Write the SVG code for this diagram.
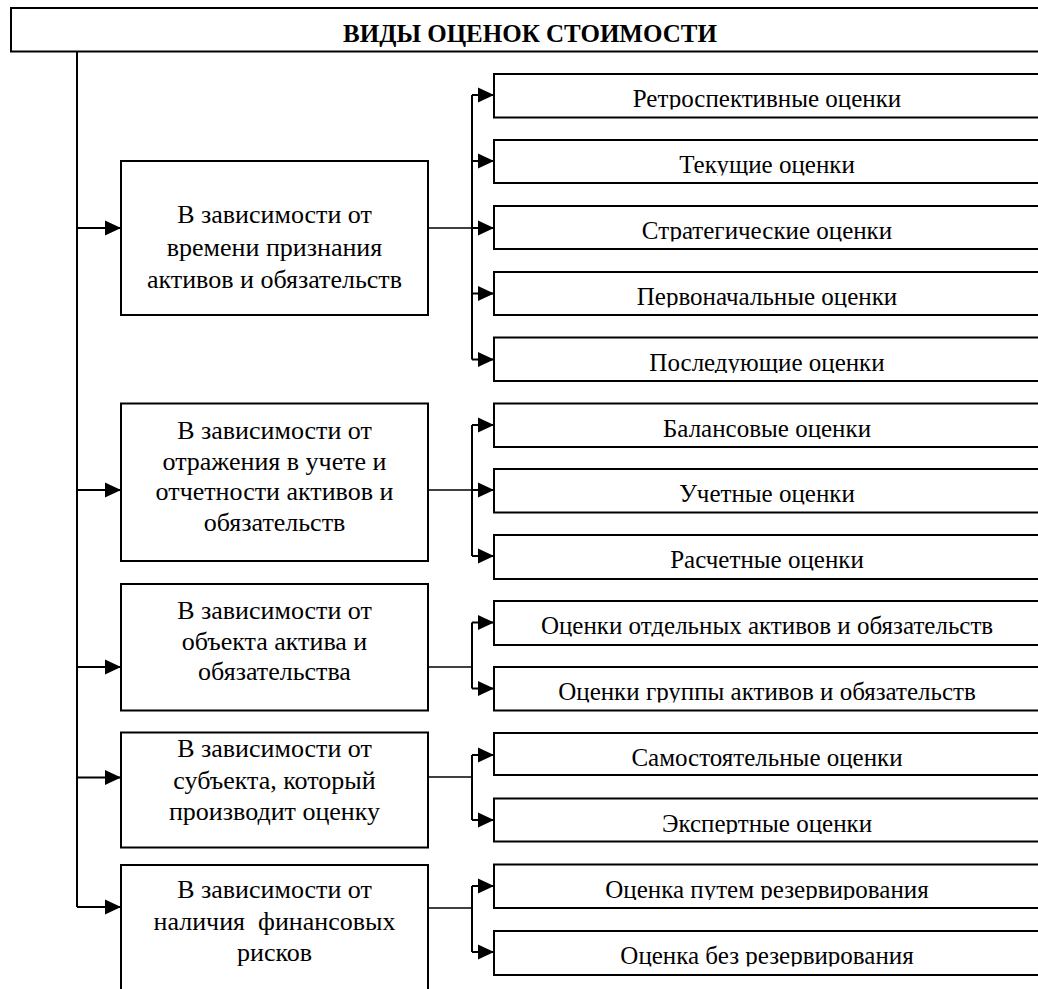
<svg xmlns="http://www.w3.org/2000/svg" width="1038" height="989" viewBox="0 0 1038 989">
<style>
.box{fill:#fff;stroke:#000;stroke-width:2}
.ln{fill:none;stroke:#000;stroke-width:2}
.cn{fill:none;stroke:#000;stroke-width:1.5}
.t{font-family:"Liberation Serif","DejaVu Serif",serif;font-size:25px;fill:#000;text-anchor:middle}
.l{font-family:"Liberation Serif","DejaVu Serif",serif;font-size:26px;fill:#000;text-anchor:middle}
.h{font-family:"Liberation Serif","DejaVu Serif",serif;font-size:25px;font-weight:bold;fill:#000;text-anchor:middle}
</style>
<defs>
<marker id="ah" markerUnits="userSpaceOnUse" markerWidth="16" markerHeight="16" viewBox="0 0 16 16" refX="16" refY="8" orient="auto">
<path d="M0,0.5 L16,8 L0,15.5 Z" fill="#000"/>
</marker>
<clipPath id="clipR"><rect x="0" y="0" width="600" height="35.5"/></clipPath>
</defs>
<rect width="1038" height="989" fill="#fff"/>

<g id="header">
<rect class="box" x="11" y="8" width="1100" height="43.5"/>
<text class="h" x="530" y="41.5">ВИДЫ ОЦЕНОК СТОИМОСТИ</text>
</g>

<g id="connectors">
<path class="ln" d="M77,51.5 V907"/>
<path class="ln" d="M77,228 H121" marker-end="url(#ah)"/>
<path class="ln" d="M77,490 H121" marker-end="url(#ah)"/>
<path class="ln" d="M77,667 H121" marker-end="url(#ah)"/>
<path class="ln" d="M77,777.5 H121" marker-end="url(#ah)"/>
<path class="ln" d="M77,907 H121" marker-end="url(#ah)"/>

<path class="cn" d="M428,228 H472"/>
<path class="ln" d="M472,95 V359.5"/>
<path class="ln" d="M472,95 H494" marker-end="url(#ah)"/>
<path class="ln" d="M472,161 H494" marker-end="url(#ah)"/>
<path class="ln" d="M472,228 H494" marker-end="url(#ah)"/>
<path class="ln" d="M472,293.5 H494" marker-end="url(#ah)"/>
<path class="ln" d="M472,359.5 H494" marker-end="url(#ah)"/>

<path class="cn" d="M428,490 H472"/>
<path class="ln" d="M472,425 V556"/>
<path class="ln" d="M472,425 H494" marker-end="url(#ah)"/>
<path class="ln" d="M472,490 H494" marker-end="url(#ah)"/>
<path class="ln" d="M472,556 H494" marker-end="url(#ah)"/>

<path class="cn" d="M428,667 H472"/>
<path class="ln" d="M472,622.5 V688.5"/>
<path class="ln" d="M472,622.5 H494" marker-end="url(#ah)"/>
<path class="ln" d="M472,688.5 H494" marker-end="url(#ah)"/>

<path class="cn" d="M428,777 H472"/>
<path class="ln" d="M472,755 V820"/>
<path class="ln" d="M472,755 H494" marker-end="url(#ah)"/>
<path class="ln" d="M472,820 H494" marker-end="url(#ah)"/>

<path class="cn" d="M428,908 H472"/>
<path class="ln" d="M472,886 V952"/>
<path class="ln" d="M472,886 H494" marker-end="url(#ah)"/>
<path class="ln" d="M472,952 H494" marker-end="url(#ah)"/>
</g>

<g id="left1">
<rect class="box" x="121" y="161" width="307" height="154"/>
<text class="l" x="274.5" y="223">В зависимости от</text>
<text class="l" x="274.5" y="256">времени признания</text>
<text class="l" x="274.5" y="288">активов и обязательств</text>
</g>
<g id="left2">
<rect class="box" x="121" y="403.5" width="307" height="157.5"/>
<text class="l" x="274.5" y="439">В зависимости от</text>
<text class="l" x="274.5" y="469.5">отражения в учете и</text>
<text class="l" x="274.5" y="500">отчетности активов и</text>
<text class="l" x="274.5" y="530.5">обязательств</text>
</g>
<g id="left3">
<rect class="box" x="121" y="584" width="307" height="126.5"/>
<text class="l" x="274.5" y="619">В зависимости от</text>
<text class="l" x="274.5" y="649.5">объекта актива и</text>
<text class="l" x="274.5" y="680">обязательства</text>
</g>
<g id="left4">
<rect class="box" x="121" y="732.5" width="307" height="115"/>
<text class="l" x="274.5" y="757">В зависимости от</text>
<text class="l" x="274.5" y="789">субъекта, который</text>
<text class="l" x="274.5" y="820">производит оценку</text>
</g>
<g id="left5">
<rect class="box" x="121" y="865" width="307" height="200"/>
<text class="l" x="274.5" y="898">В зависимости от</text>
<text class="l" x="274.5" y="930" xml:space="preserve">наличия  финансовых</text>
<text class="l" x="274.5" y="961">рисков</text>
</g>

<g id="r1" transform="translate(494,74)"><rect class="box" width="600" height="43.5"/><text class="t" x="273" y="33" clip-path="url(#clipR)">Ретроспективные оценки</text></g>
<g id="r2" transform="translate(494,140)"><rect class="box" width="600" height="43"/><text class="t" x="273" y="33" clip-path="url(#clipR)">Текущие оценки</text></g>
<g id="r3" transform="translate(494,206)"><rect class="box" width="600" height="43"/><text class="t" x="273" y="33" clip-path="url(#clipR)">Стратегические оценки</text></g>
<g id="r4" transform="translate(494,272)"><rect class="box" width="600" height="43"/><text class="t" x="273" y="33" clip-path="url(#clipR)">Первоначальные оценки</text></g>
<g id="r5" transform="translate(494,337.5)"><rect class="box" width="600" height="43.5"/><text class="t" x="273" y="33" clip-path="url(#clipR)">Последующие оценки</text></g>
<g id="r6" transform="translate(494,403.5)"><rect class="box" width="600" height="43.5"/><text class="t" x="273" y="33" clip-path="url(#clipR)">Балансовые оценки</text></g>
<g id="r7" transform="translate(494,469)"><rect class="box" width="600" height="43.5"/><text class="t" x="273" y="33" clip-path="url(#clipR)">Учетные оценки</text></g>
<g id="r8" transform="translate(494,535)"><rect class="box" width="600" height="44"/><text class="t" x="273" y="33" clip-path="url(#clipR)">Расчетные оценки</text></g>
<g id="r9" transform="translate(494,601)"><rect class="box" width="600" height="44"/><text class="t" x="273" y="33" clip-path="url(#clipR)">Оценки отдельных активов и обязательств</text></g>
<g id="r10" transform="translate(494,667)"><rect class="box" width="600" height="43.5"/><text class="t" x="273" y="33" clip-path="url(#clipR)">Оценки группы активов и обязательств</text></g>
<g id="r11" transform="translate(494,733)"><rect class="box" width="600" height="42"/><text class="t" x="273" y="33" clip-path="url(#clipR)">Самостоятельные оценки</text></g>
<g id="r12" transform="translate(494,798.5)"><rect class="box" width="600" height="43"/><text class="t" x="273" y="33" clip-path="url(#clipR)">Экспертные оценки</text></g>
<g id="r13" transform="translate(494,864.5)"><rect class="box" width="600" height="43.5"/><text class="t" x="273" y="33" clip-path="url(#clipR)">Оценка путем резервирования</text></g>
<g id="r14" transform="translate(494,931)"><rect class="box" width="600" height="44"/><text class="t" x="273" y="33" clip-path="url(#clipR)">Оценка без резервирования</text></g>
</svg>
